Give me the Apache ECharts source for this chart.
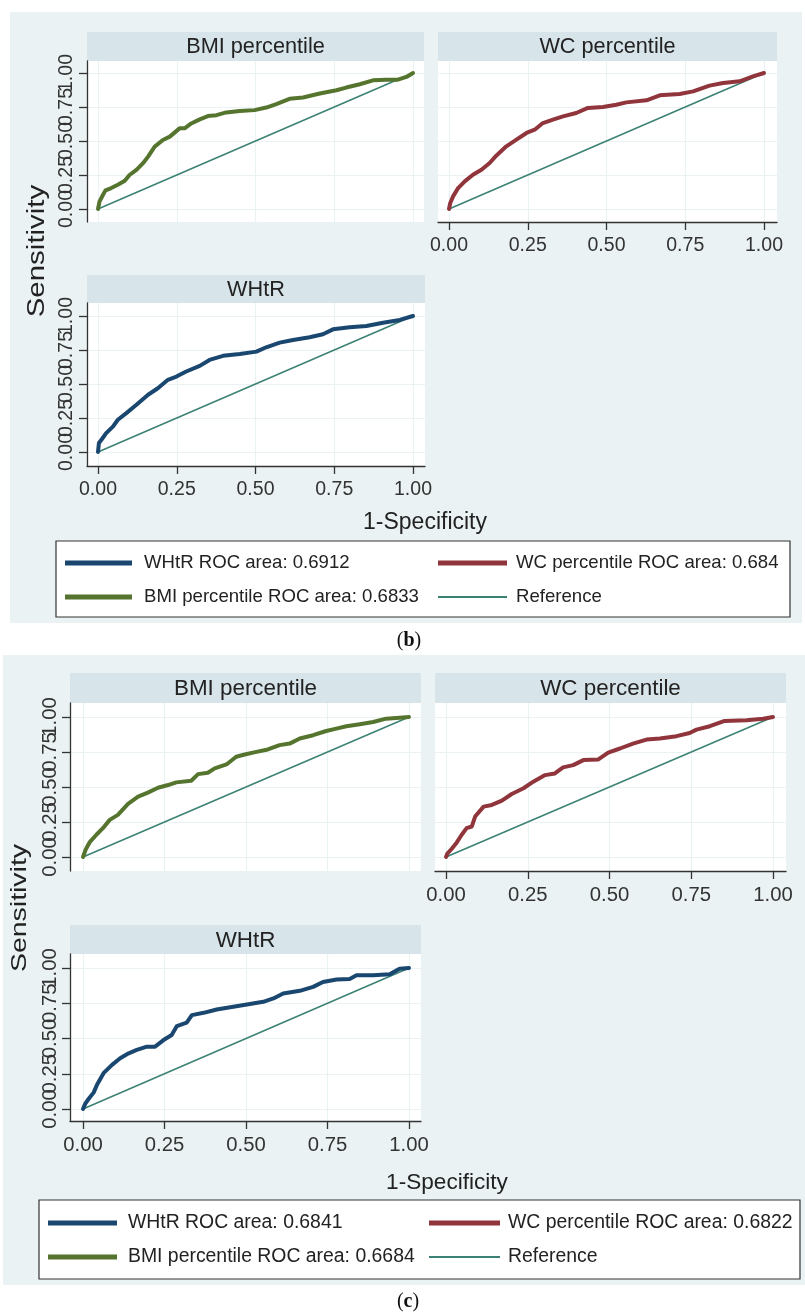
<!DOCTYPE html>
<html><head><meta charset="utf-8">
<script src="https://cdn.jsdelivr.net/npm/echarts@6.0.0/dist/echarts.min.js"></script>
<style>html,body{margin:0;padding:0;background:#fff}#c{width:805px;height:1315px}</style>
</head><body><div id="c"></div>
<script>
// ---------- data ----------
const ticks = [0, 0.25, 0.5, 0.75, 1];
const tickLabels = ['0.00', '0.25', '0.50', '0.75', '1.00'];
const panelTitles = ['BMI percentile', 'WC percentile', 'WHtR'];
const xTitle = '1-Specificity';
const yTitle = 'Sensitivity';
const referenceLine = [[0, 0], [1, 1]];

// figure (b)
const bLegend = ['WHtR ROC area: 0.6912', 'WC percentile ROC area: 0.684', 'BMI percentile ROC area: 0.6833', 'Reference'];
const bBMI = [[0,0],[0.005,0.056],[0.016,0.105],[0.024,0.137],[0.042,0.154],[0.063,0.178],[0.085,0.207],[0.1,0.25],[0.122,0.288],[0.143,0.337],[0.159,0.385],[0.18,0.459],[0.206,0.507],[0.228,0.532],[0.259,0.593],[0.275,0.593],[0.296,0.629],[0.323,0.659],[0.349,0.683],[0.376,0.69],[0.407,0.71],[0.45,0.72],[0.497,0.727],[0.534,0.746],[0.566,0.771],[0.608,0.81],[0.651,0.82],[0.704,0.849],[0.757,0.873],[0.788,0.893],[0.831,0.917],[0.873,0.946],[0.915,0.951],[0.952,0.951],[0.979,0.971],[1,1]];
const bWC = [[0,0],[0.004,0.044],[0.013,0.093],[0.029,0.154],[0.05,0.203],[0.076,0.252],[0.103,0.289],[0.129,0.338],[0.15,0.392],[0.182,0.461],[0.214,0.51],[0.246,0.559],[0.272,0.583],[0.298,0.632],[0.33,0.657],[0.362,0.681],[0.404,0.706],[0.441,0.743],[0.489,0.75],[0.531,0.767],[0.563,0.784],[0.627,0.799],[0.669,0.836],[0.732,0.846],[0.775,0.865],[0.827,0.907],[0.87,0.926],[0.923,0.939],[0.965,0.975],[1,1]];
const bWHtR = [[0,0],[0.003,0.066],[0.011,0.09],[0.026,0.139],[0.048,0.188],[0.063,0.237],[0.09,0.286],[0.122,0.347],[0.159,0.421],[0.19,0.469],[0.222,0.531],[0.249,0.555],[0.28,0.592],[0.323,0.633],[0.354,0.677],[0.397,0.707],[0.45,0.721],[0.503,0.738],[0.534,0.77],[0.577,0.804],[0.619,0.824],[0.672,0.844],[0.714,0.866],[0.746,0.902],[0.799,0.917],[0.852,0.927],[0.905,0.951],[0.958,0.971],[1,1]];

// figure (c)
const cLegend = ['WHtR ROC area: 0.6841', 'WC percentile ROC area: 0.6822', 'BMI percentile ROC area: 0.6684', 'Reference'];
const cBMI = [[0,0],[0.008,0.052],[0.02,0.104],[0.041,0.159],[0.061,0.206],[0.082,0.265],[0.107,0.301],[0.138,0.379],[0.169,0.431],[0.199,0.46],[0.23,0.495],[0.261,0.514],[0.286,0.533],[0.332,0.545],[0.353,0.592],[0.383,0.602],[0.404,0.633],[0.44,0.661],[0.47,0.716],[0.496,0.732],[0.532,0.751],[0.567,0.768],[0.603,0.799],[0.634,0.81],[0.665,0.846],[0.706,0.87],[0.746,0.9],[0.777,0.917],[0.808,0.934],[0.849,0.948],[0.89,0.964],[0.93,0.988],[0.971,0.995],[1,1]];
const cWC = [[0,0],[0.004,0.024],[0.017,0.057],[0.033,0.104],[0.048,0.159],[0.063,0.206],[0.079,0.218],[0.089,0.289],[0.115,0.36],[0.14,0.372],[0.171,0.403],[0.201,0.45],[0.237,0.491],[0.267,0.538],[0.303,0.585],[0.333,0.597],[0.358,0.64],[0.389,0.656],[0.42,0.692],[0.466,0.697],[0.496,0.746],[0.532,0.775],[0.572,0.81],[0.613,0.839],[0.654,0.846],[0.705,0.863],[0.745,0.886],[0.766,0.91],[0.807,0.934],[0.852,0.972],[0.919,0.976],[0.97,0.988],[1,1]];
const cWHtR = [[0,0],[0.007,0.038],[0.017,0.071],[0.033,0.118],[0.043,0.172],[0.063,0.254],[0.089,0.313],[0.114,0.36],[0.14,0.395],[0.165,0.419],[0.196,0.442],[0.221,0.442],[0.247,0.489],[0.272,0.525],[0.288,0.588],[0.318,0.612],[0.334,0.666],[0.37,0.682],[0.41,0.706],[0.461,0.725],[0.512,0.744],[0.553,0.76],[0.584,0.784],[0.614,0.819],[0.665,0.838],[0.706,0.866],[0.736,0.901],[0.778,0.918],[0.818,0.922],[0.839,0.948],[0.89,0.948],[0.941,0.955],[0.971,0.995],[1,1]];

// ---------- styles / layout ----------
const FONT = '"Liberation Sans", Arial, Helvetica, sans-serif';
const COL = { navy: '#1A476F', maroon: '#90353B', green: '#55752F', ref: '#3B8174',
  bg: '#EAF2F3', strip: '#D7E4EA', grid: '#EAF2F3', axis: '#333333', text: '#222222' };

const figures = [
  { tag: 'b', bg: [10, 12, 792, 611], legendNames: bLegend,
    fonts: { strip: 21.7, tick: 19.5, title: 23, legend: 18.6 },
    panels: [
      { plot: [87, 61, 424, 222], data: [98, 413, 209, 73], strip: 32, xShow: false, yShow: true, roc: bBMI, color: COL.green, name: bLegend[2], title: panelTitles[0] },
      { plot: [438, 61, 777, 222], data: [449, 764, 209, 73], strip: 32, xShow: true, yShow: false, roc: bWC, color: COL.maroon, name: bLegend[1], title: panelTitles[1] },
      { plot: [87, 303, 425, 466], data: [98, 413, 452, 316], strip: 275, xShow: true, yShow: true, roc: bWHtR, color: COL.navy, name: bLegend[0], title: panelTitles[2] }
    ],
    xTitlePos: [425, 523], yTitlePos: [38, 251], yTitleScale: 1.28,
    box: [56, 541, 790, 617], rows: [563, 597], cols: [[65, 132, 144], [438, 507, 516]],
    labelPos: [409, 641] },
  { tag: 'c', bg: [3, 655, 802, 630], legendNames: cLegend,
    fonts: { strip: 22.4, tick: 20.3, title: 22.6, legend: 19.4 },
    panels: [
      { plot: [70, 703, 421, 871], data: [83, 409, 857, 717], strip: 673, xShow: false, yShow: true, roc: cBMI, color: COL.green, name: cLegend[2], title: panelTitles[0] },
      { plot: [435, 703, 786, 871], data: [446, 773, 857, 717], strip: 673, xShow: true, yShow: false, roc: cWC, color: COL.maroon, name: cLegend[1], title: panelTitles[1] },
      { plot: [70, 954, 421, 1121], data: [83, 409, 1109, 968], strip: 925, xShow: true, yShow: true, roc: cWHtR, color: COL.navy, name: cLegend[0], title: panelTitles[2] }
    ],
    xTitlePos: [447, 1183], yTitlePos: [20, 908], yTitleScale: 1.26,
    box: [39, 1200, 800, 1279], rows: [1223, 1257], cols: [[48, 117, 128], [429, 500, 508]],
    labelPos: [408, 1302] }
];

const grid = [], xAxis = [], yAxis = [], series = [], legend = [], graphic = [];
const fmt = v => tickLabels[ticks.indexOf(+v.toFixed(2))] ?? v.toFixed(2);
// rotated y labels overlap their neighbours (as in the original), so they are split over two label layers
const yLabelsEven = ticks.filter((_, i) => i % 2 === 0);
const yLabelsOdd = ticks.filter((_, i) => i % 2 === 1);

figures.forEach(fig => {
  graphic.push({ type: 'rect', z: -10, shape: { x: fig.bg[0], y: fig.bg[1], width: fig.bg[2], height: fig.bg[3] }, style: { fill: COL.bg } });
  fig.panels.forEach(p => {
    const gi = grid.length;
    const [l, t, r, b] = p.plot;
    const [x0, x1, y0, y1] = p.data;
    const sx = x1 - x0, sy = y0 - y1;
    const ymin = -(b - y0) / sy, ymax = 1 + (y1 - t) / sy;
    grid.push({ left: l, top: t, width: r - l, height: b - t, show: true, backgroundColor: '#ffffff', borderWidth: 0, containLabel: false, outerBoundsMode: 'none' });
    const axisLineStyle = { color: COL.axis, width: 1.3 };
    const labelCommon = { fontSize: fig.fonts.tick, fontFamily: FONT, color: COL.axis, formatter: fmt, showMinLabel: true, showMaxLabel: true, hideOverlap: false };
    xAxis.push({
      gridIndex: gi, type: 'value', min: -(x0 - l) / sx, max: 1 + (r - x1) / sx,
      axisLine: { show: p.xShow, onZero: false, lineStyle: axisLineStyle },
      axisTick: { show: p.xShow, length: 8, customValues: ticks, lineStyle: axisLineStyle },
      axisLabel: Object.assign({ show: p.xShow, customValues: ticks, margin: 14 }, labelCommon),
      splitLine: { show: true, lineStyle: { color: COL.grid, width: 1.2 } }
    });
    const yi = yAxis.length;
    yAxis.push({
      gridIndex: gi, type: 'value', position: 'left', offset: 0, min: ymin, max: ymax,
      axisLine: { show: p.yShow, onZero: false, lineStyle: axisLineStyle },
      axisTick: { show: p.yShow, length: 8, customValues: ticks, lineStyle: axisLineStyle },
      axisLabel: Object.assign({ show: p.yShow, customValues: yLabelsEven, rotate: 90, margin: 10 }, labelCommon),
      splitLine: { show: true, lineStyle: { color: COL.grid, width: 1.2 } }
    });
    yAxis.push({
      gridIndex: gi, type: 'value', position: 'left', offset: 0, min: ymin, max: ymax,
      axisLine: { show: false, onZero: false }, axisTick: { show: false, customValues: yLabelsOdd },
      axisLabel: Object.assign({ show: p.yShow, customValues: yLabelsOdd, rotate: 90, margin: 10 }, labelCommon),
      splitLine: { show: false }
    });
    // strip
    graphic.push({ type: 'rect', shape: { x: l, y: p.strip, width: r - l, height: t - p.strip }, style: { fill: COL.strip } });
    graphic.push({ type: 'text', x: (l + r) / 2, y: (p.strip + t) / 2 + 1, style: { text: p.title, fontSize: fig.fonts.strip, fontFamily: FONT, fill: COL.text, align: 'center', verticalAlign: 'middle' } });
    series.push({ type: 'line', name: 'Reference', xAxisIndex: gi, yAxisIndex: yi, data: referenceLine, showSymbol: false, symbol: 'none', color: COL.ref, lineStyle: { width: 1.5, color: COL.ref }, z: 2, silent: true });
    series.push({ type: 'line', name: p.name, xAxisIndex: gi, yAxisIndex: yi, data: p.roc, showSymbol: false, symbol: 'none', color: p.color, lineStyle: { width: 4, color: p.color, join: 'round', cap: 'round' }, z: 3, silent: true });
  });
  // axis titles
  graphic.push({ type: 'text', x: fig.xTitlePos[0], y: fig.xTitlePos[1], style: { text: xTitle, fontSize: fig.fonts.title, fontFamily: FONT, fill: COL.text, align: 'center', verticalAlign: 'middle' } });
  graphic.push({ type: 'text', x: fig.yTitlePos[0], y: fig.yTitlePos[1], rotation: Math.PI / 2, scaleX: fig.yTitleScale, style: { text: yTitle, fontSize: fig.fonts.title, fontFamily: FONT, fill: COL.text, align: 'center', verticalAlign: 'middle' } });
  // legend box
  const [bl, bt, br, bb] = fig.box;
  graphic.push({ type: 'rect', z: -5, shape: { x: bl, y: bt, width: br - bl, height: bb - bt }, style: { fill: '#ffffff', stroke: '#333333', lineWidth: 1.2 } });
  const order = [[0, 0, 0], [1, 1, 0], [2, 0, 1], [3, 1, 1]];
  const lh = 24;
  order.forEach(([idx, c, rw]) => {
    const [ls, le, ts] = fig.cols[c];
    const isRef = idx === 3;
    legend.push({
      data: [fig.legendNames[idx]], left: ls, top: fig.rows[rw] - lh / 2, orient: 'horizontal',
      icon: 'rect', itemWidth: le - ls, itemHeight: isRef ? 2 : 5, itemGap: 0, padding: 0,
      selectedMode: false, z: 5,
      itemStyle: { borderWidth: 0 },
      textStyle: { fontSize: fig.fonts.legend, fontFamily: FONT, color: COL.text, lineHeight: lh, padding: [0, 0, 0, ts - le - 5] }
    });
  });
  // figure label
  graphic.push({ type: 'text', x: fig.labelPos[0], y: fig.labelPos[1], style: {
    text: '{p|(}{t|' + fig.tag + '}{p|)}', align: 'center', verticalAlign: 'middle',
    rich: { p: { fontSize: 20, fontFamily: '"Liberation Serif", "DejaVu Serif", serif', fill: '#111' },
            t: { fontSize: 20, fontWeight: 'bold', fontFamily: '"Liberation Serif", "DejaVu Serif", serif', fill: '#111' } } } });
});

const chart = echarts.init(document.getElementById('c'), null, { renderer: 'canvas' });
chart.setOption({ animation: false, backgroundColor: '#ffffff', grid, xAxis, yAxis, series, legend, graphic, tooltip: { show: false } });
</script></body></html>
